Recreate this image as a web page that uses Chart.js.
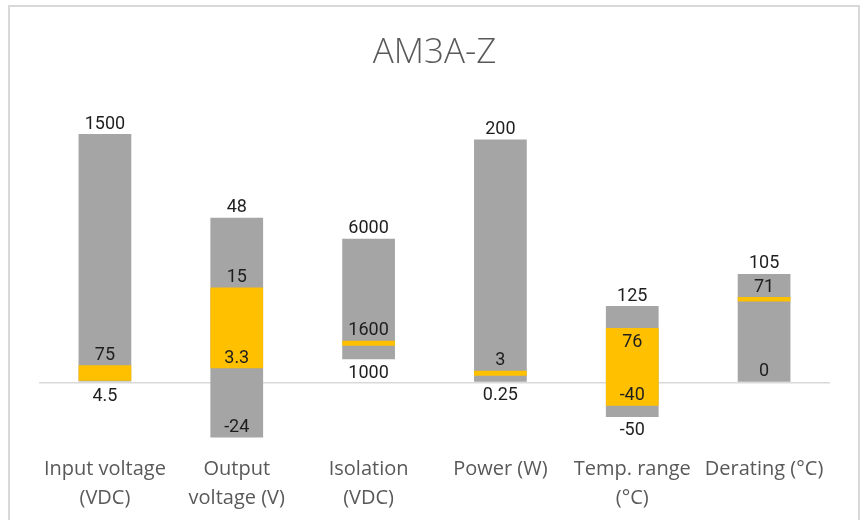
<!DOCTYPE html>
<html>
<head>
<meta charset="utf-8">
<script src="https://cdn.jsdelivr.net/npm/chart.js@4.4.1/dist/chart.umd.min.js"></script>
<style>
  html, body { margin: 0; padding: 0; background: #fff; }
  #wrap { position: relative; width: 864px; height: 520px; overflow: hidden; }
  #frame { position: absolute; left: 8px; top: 5px; width: 848px; height: 540px; border: 2px solid #d9d9d9; pointer-events: none; }
  canvas { position: absolute; left: 0; top: 0; }
</style>
</head>
<body>
<div id="wrap">
  <canvas id="chart" width="864" height="520"></canvas>
  <div id="frame"></div>
</div>
<script>
const categories = [['Input voltage', '(VDC)'], ['Output', 'voltage (V)'], ['Isolation', '(VDC)'], 'Power (W)', ['Temp. range', '(°C)'], 'Derating (°C)'];

// bar extents in the picture's own (normalised) units, zero = baseline
const rangeLow = [0, -55, 23, 0.5, -34.5, 0.5];
const rangeHigh = [247.5, 164, 143, 242, 76, 108];
const bandLow = [1.5, 14, 36.5, 6.5, -23.5, 80.5];
const bandHigh = [17, 94.5, 41.5, 11.5, 54, 85];

// printed values
const topText = ['1500', '48', '6000', '200', '125', '105'];
const bandTopText = ['75', '15', '1600', '3', '76', '71'];
const bandTopSide = ['above', 'above', 'above', 'above', 'below', 'above'];
const bandLowText = ['', '3.3', '', '', '-40', ''];
const rangeLowText = ['4.5', '-24', '1000', '0.25', '-50', '0'];
const rangeLowSide = ['below', 'above', 'below', 'below', 'below', 'above'];

const valueLabels = {
  id: 'valueLabels',
  afterDatasetsDraw(chart) {
    const { ctx, scales: { x, y } } = chart;
    ctx.save();
    ctx.font = '18px Roboto';
    ctx.fillStyle = '#1e1e1e';
    ctx.textAlign = 'center';
    ctx.textBaseline = 'middle';
    const put = (text, i, v, side) => {
      if (!text) return;
      const py = y.getPixelForValue(v) + (side === 'below' ? 14 : -10);
      ctx.fillText(text, x.getPixelForValue(i), py);
    };
    categories.forEach((c, i) => {
      put(topText[i], i, rangeHigh[i], 'above');
      put(bandTopText[i], i, bandHigh[i], bandTopSide[i]);
      put(bandLowText[i], i, bandLow[i], 'above');
      put(rangeLowText[i], i, rangeLow[i], rangeLowSide[i]);
    });
    ctx.restore();
  }
};

new Chart(document.getElementById('chart'), {
  type: 'bar',
  data: {
    labels: categories,
    datasets: [
      {
        label: 'Range',
        data: rangeLow.map((v, i) => [v, rangeHigh[i]]),
        backgroundColor: '#a5a5a5',
        order: 2
      },
      {
        label: 'Typical',
        data: bandLow.map((v, i) => [v, bandHigh[i]]),
        backgroundColor: '#ffc000',
        order: 1
      }
    ]
  },
  options: {
    responsive: false,
    animation: false,
    layout: { padding: { left: 39, right: 34, top: 0, bottom: 5.5 } },
    datasets: { bar: { grouped: false, categoryPercentage: 1, barPercentage: 0.4, borderWidth: 0 } },
    plugins: {
      legend: { display: false },
      tooltip: { enabled: false },
      title: {
        display: true,
        text: 'AM3A-Z',
        color: '#595959',
        font: { family: 'Open Sans', size: 35, weight: 300, lineHeight: 1.2 },
        padding: { top: 32, bottom: 47.5 }
      }
    },
    scales: {
      x: {
        grid: { display: false, drawTicks: false },
        border: { display: false },
        ticks: { color: '#595959', font: { family: 'Open Sans', size: 20, lineHeight: 1.45 }, padding: 2, maxRotation: 0, autoSkip: false }
      },
      y: {
        display: true,
        min: -70,
        max: 260,
        z: 1,
        afterBuildTicks: (s) => { s.ticks = [{ value: 0 }]; },
        ticks: { display: false },
        border: { display: false },
        grid: { color: (c) => (c.tick && c.tick.value === 0 ? '#d9d9d9' : 'transparent'), lineWidth: 1.5, drawTicks: false }
      }
    }
  },
  plugins: [valueLabels]
});
</script>
</body>
</html>
